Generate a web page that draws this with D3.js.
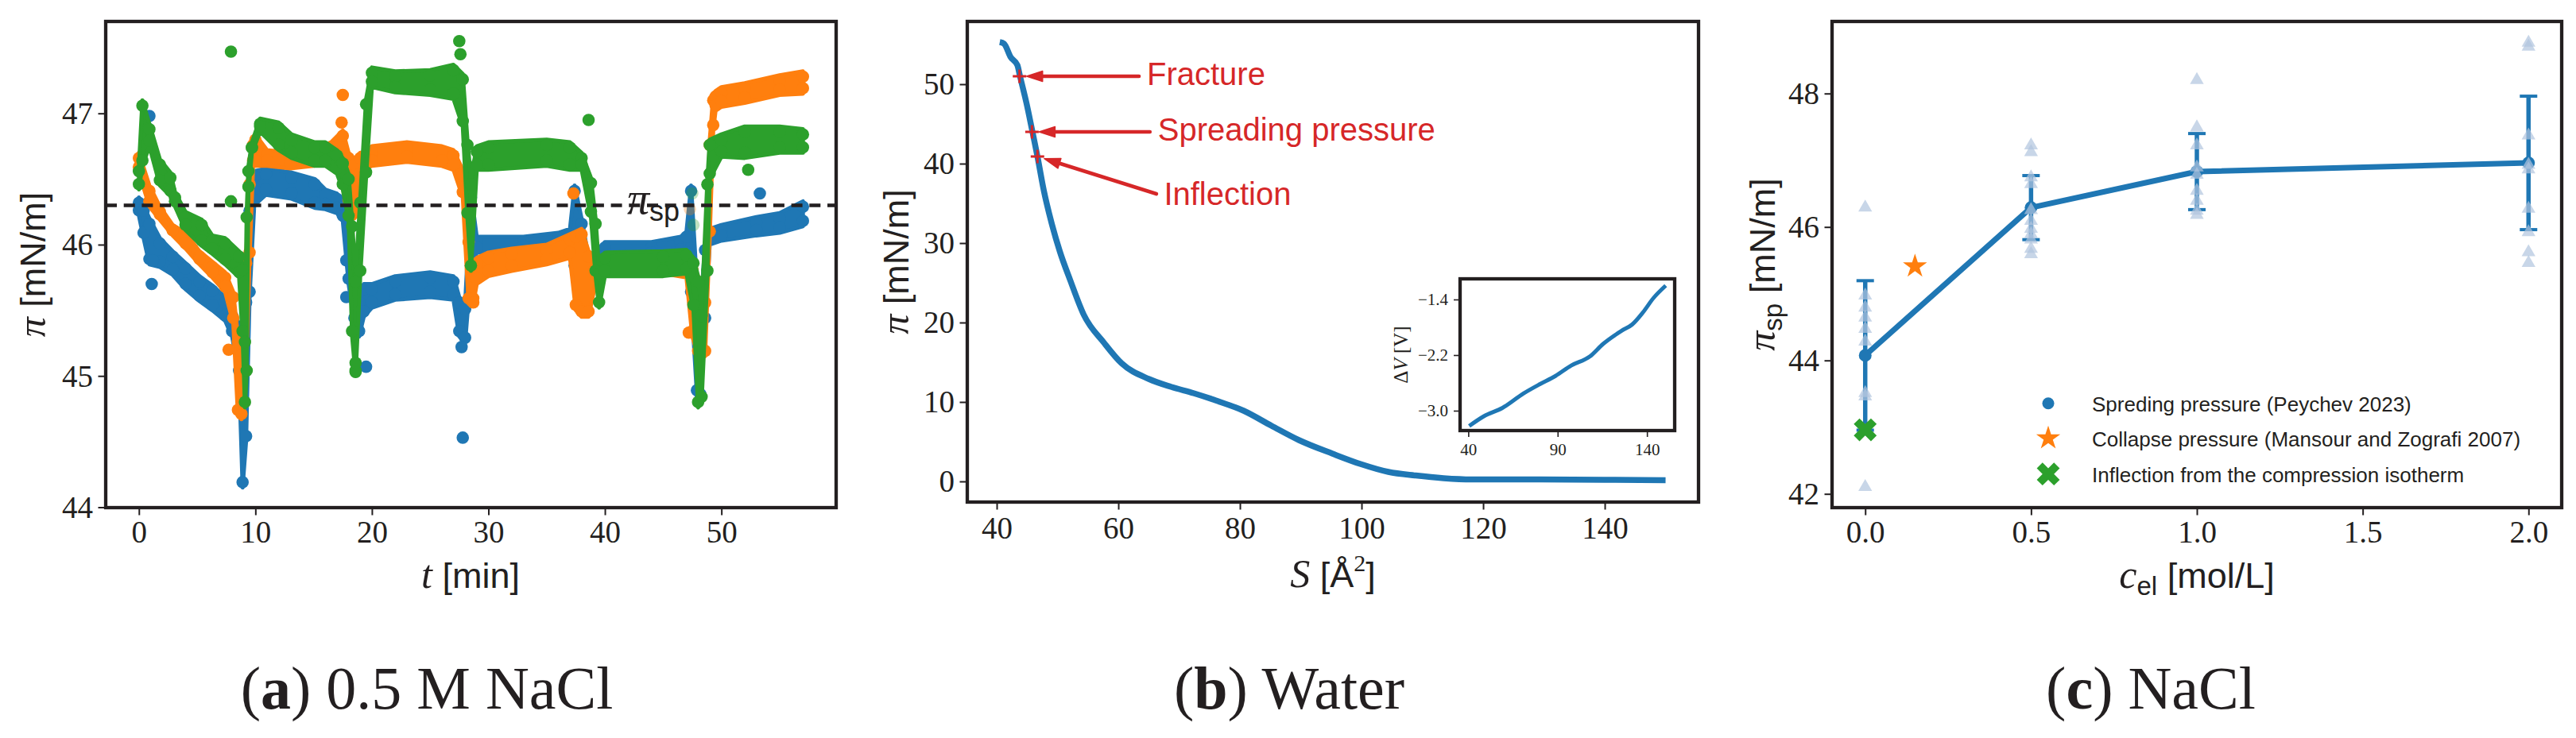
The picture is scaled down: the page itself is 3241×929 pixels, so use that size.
<!DOCTYPE html>
<html><head><meta charset="utf-8">
<script src="https://cdn.jsdelivr.net/npm/d3@7"></script>
<style>html,body{margin:0;padding:0;background:#fff;}svg{display:block;}</style>
</head><body>
<svg id="fig" width="3241" height="929"></svg>
<script>
// ================= DATA =================
// Panel (a): dense scatter bands: [t (min), lower edge, upper edge] in mN/m
const blueBand = [
 [0.0,46.22,46.36],[0.4,46.05,46.30],[0.9,45.85,46.20],[1.8,45.83,46.05],[2.9,45.77,45.95],
 [4.0,45.66,45.86],[5.2,45.57,45.76],[6.3,45.50,45.69],[7.4,45.42,45.60],[8.0,45.30,45.50],
 [8.6,45.00,45.40],[8.9,44.15,45.30],[9.2,44.50,45.60],[9.5,45.60,46.30],[9.9,46.30,46.56],
 [10.9,46.38,46.58],[13.1,46.35,46.55],[15.1,46.28,46.50],[16.0,46.27,46.42],[17.0,46.24,46.39],
 [17.5,46.18,46.30],[18.0,45.70,46.15],[18.5,45.40,45.80],[18.9,45.30,45.60],[19.3,45.45,45.70],
 [20.0,45.52,45.70],[22.0,45.58,45.76],[25.0,45.60,45.79],[27.0,45.58,45.76],[27.5,45.30,45.60],
 [28.0,45.25,45.55],[28.5,45.80,46.40],[29.0,45.94,46.06],[33.0,45.95,46.06],[36.0,45.97,46.09],
 [37.0,46.00,46.12],[37.4,45.80,46.45],[38.0,45.55,46.20],[38.6,45.60,45.90],[39.5,45.80,45.95],
 [40.0,45.88,46.02],[44.0,45.90,46.02],[46.5,45.92,46.06],[47.0,45.90,46.10],[47.4,45.60,46.45],
 [47.9,44.85,45.70],[48.2,44.82,45.50],[48.6,45.40,46.00],[49.0,46.00,46.12],[50.0,46.03,46.15],
 [53.0,46.07,46.21],[55.0,46.09,46.24],[57.0,46.14,46.33]
];
const orangeBand = [
 [0.0,46.55,46.70],[0.9,46.29,46.45],[1.8,46.19,46.29],[2.9,46.07,46.15],[4.0,45.97,46.09],
 [5.2,45.85,45.95],[6.3,45.75,45.87],[7.4,45.64,45.79],[8.1,45.40,45.64],[8.5,44.70,45.30],
 [8.8,44.67,45.20],[9.2,45.00,45.90],[9.5,45.90,46.50],[9.8,46.60,46.80],[10.0,46.60,46.84],
 [11.0,46.60,46.72],[13.0,46.58,46.70],[15.0,46.60,46.72],[16.5,46.62,46.78],[17.5,46.60,46.87],
 [18.0,46.30,46.70],[18.5,46.20,46.65],[19.0,46.50,46.70],[19.5,46.58,46.70],[20.0,46.60,46.75],
 [23.0,46.63,46.78],[26.0,46.60,46.75],[27.0,46.57,46.72],[27.8,46.36,46.57],[28.3,45.55,46.06],
 [28.7,45.55,45.80],[29.0,45.70,45.90],[30.0,45.76,45.94],[32.0,45.80,45.97],[35.0,45.85,46.00],
 [37.0,45.90,46.08],[37.5,45.50,46.10],[38.0,45.45,46.12],[38.6,45.45,45.95],[39.3,45.75,45.90],
 [40.0,45.76,45.90],[45.0,45.78,45.92],[47.0,45.75,45.85],[47.5,45.30,45.85],[48.0,45.15,45.76],
 [48.6,45.15,45.60],[49.0,46.06,46.80],[49.3,46.87,47.14],[49.5,47.02,47.17],[50.0,47.05,47.20],
 [52.0,47.08,47.23],[55.0,47.14,47.29],[57.0,47.15,47.32]
];
const greenBand = [
 [0.0,46.42,46.60],[0.3,46.60,47.10],[0.9,46.75,46.92],[1.8,46.45,46.65],[2.7,46.37,46.55],
 [3.1,46.29,46.40],[4.0,46.11,46.25],[5.4,45.99,46.19],[6.3,45.93,46.07],[7.4,45.85,46.05],
 [8.6,45.75,45.95],[8.9,45.30,45.85],[9.1,44.76,45.30],[9.25,45.00,46.25],[9.4,46.40,46.60],
 [9.7,46.70,46.78],[10.4,46.86,46.96],[12.0,46.72,46.93],[13.1,46.66,46.84],[15.1,46.60,46.78],
 [16.0,46.60,46.78],[17.0,46.54,46.72],[17.5,46.42,46.66],[18.0,46.18,46.54],[18.3,45.30,46.18],
 [18.6,45.00,45.76],[19.0,45.76,46.36],[19.5,46.51,47.11],[20.0,47.20,47.35],[22.0,47.16,47.32],
 [25.0,47.14,47.33],[27.0,47.11,47.37],[27.8,46.90,47.30],[28.2,46.20,46.80],[28.5,45.80,46.50],
 [29.0,46.57,46.75],[30.0,46.57,46.78],[35.0,46.60,46.80],[37.0,46.57,46.78],[38.0,46.57,46.70],
 [38.8,46.21,46.51],[39.2,45.76,46.20],[39.5,45.52,45.82],[40.0,45.76,45.94],[45.0,45.76,45.95],
 [47.0,45.78,45.96],[47.6,45.50,45.90],[48.0,44.76,45.76],[48.3,44.80,45.50],[48.8,45.76,46.50],
 [49.0,46.50,46.80],[50.0,46.67,46.84],[52.0,46.66,46.90],[55.0,46.70,46.90],[57.0,46.70,46.88]
];
// isolated points [t, pi]
const blueOut = [[0.9,46.98],[0.85,46.88],[1.1,45.70],[1.2,45.88],[17.8,45.88],[17.8,45.60],[19.5,45.07],[27.7,45.22],[27.8,44.53],[53.3,46.39]];
const orangeOut = [[7.7,45.20],[17.5,47.14],[17.4,46.93],[28.7,45.56],[37.3,46.39],[47.2,45.33]];
const greenOut = [[7.9,47.47],[7.9,46.33],[18.6,45.03],[18.6,45.10],[27.5,47.55],[27.6,47.45],[38.6,46.95],[52.3,46.57]];
// faint (semi-transparent) points near t = 47.5
const paleOrange = [[47.3,46.27]];
const paleGreen = [[47.5,46.39],[47.6,46.15]];
const piSp = 46.3;
const aXTicks = [0,10,20,30,40,50];
const aYTicks = [44,45,46,47];

// Panel (b): compression isotherm
const areaS    = [40.5,41.2,42.3,43.4,43.8,44.9,45.8,46.7,47.75,49.1,50.4,52.1,54.3,57.7,60.5,65.0,68.7,72.4,76.0,80.6,85.2,89.7,95.2,99.8,104.4,108.9,113.5,118.1,127.2,140.0,150.0];
const pressure = [55.3,55.1,53.4,52.4,51.1,47.6,44.3,40.9,36.6,32.3,28.9,25.3,21.0,17.4,14.9,12.9,11.9,11.1,10.2,8.9,7.0,5.2,3.5,2.2,1.2,0.74,0.4,0.25,0.25,0.2,0.15];
const insetS  = [40.5,48.7,59.1,71.0,79.9,88.8,97.6,108.0,115.4,125.8,131.7,137.6,143.6,150.5];
const insetDV = [-3.22,-3.08,-2.96,-2.75,-2.62,-2.50,-2.35,-2.22,-2.04,-1.85,-1.76,-1.59,-1.38,-1.20];
const bXTicks = [40,60,80,100,120,140];
const bYTicks = [0,10,20,30,40,50];
const insetXTicks = [40,90,140];
const insetYTicks = [-3.0,-2.2,-1.4];
const annLabels  = ["Fracture","Spreading pressure","Inflection"];
const annPointS  = [43.75,45.8,46.7];
const annPointPi = [51.0,44.0,40.9];
const annTextS   = [64.7,66.5,67.5];
const annTextPi  = [51.0,44.0,35.9];

// Panel (c): spreading pressure vs electrolyte concentration
const conc   = [0,0.5,1.0,2.0];
const meanSp = [44.075,46.29,46.83,46.96];
const errSp  = [1.12,0.48,0.57,1.0];
const runsC  = [0,0,0,0,0,0,0,0,0,0, 0.5,0.5,0.5,0.5,0.5,0.5,0.5,0.5,0.5,0.5,0.5, 1,1,1,1,1,1,1,1,1, 2,2,2,2,2,2,2,2,2];
const runsPi = [46.31,44.99,44.81,44.66,44.49,44.30,43.53,43.48,42.95,42.12,
                47.24,47.14,46.76,46.66,46.27,46.11,45.99,45.91,45.83,45.69,45.61,
                48.22,47.51,47.24,46.91,46.80,46.56,46.41,46.26,46.20,
                48.72,48.78,47.39,46.95,46.88,46.29,45.94,45.64,45.48];
const collapseC = [0.15], collapsePi = [45.41];
const inflectC = [0.0], inflectPi = [42.96];
const legendLabels = ["Spreding pressure (Peychev 2023)","Collapse pressure (Mansour and Zografi 2007)","Inflection from the compression isotherm"];
const cXTicks = [0,0.5,1.0,1.5,2.0];
const cYTicks = [42,44,46,48];
const capLetters = ["a","b","c"];
const capTexts = [" 0.5 M NaCl"," Water"," NaCl"];

// ================= DRAWING =================
const SERIF = "'Liberation Serif','Times New Roman',serif";
const SANS = "'Liberation Sans',Arial,sans-serif";
const INK = "#231f20";
const C0="#1f77b4", C1="#ff7f0e", C2="#2ca02c", C3="#d62728";
const svg = d3.select("#fig");
svg.append("rect").attr("width",3241).attr("height",929).attr("fill","#fff");
const defs = svg.append("defs");

function clip(id,x,y){
  const [xl,xr]=x.range(),[yb,yt]=y.range();
  defs.append("clipPath").attr("id",id).append("rect").attr("x",xl).attr("y",yt).attr("width",xr-xl).attr("height",yb-yt);
}
function axes(g,x,y,o){
  const [xl,xr]=x.range(),[yb,yt]=y.range();
  const gx=g.append("g").attr("transform",`translate(0,${yb})`)
    .call(d3.axisBottom(x).tickValues(o.xt).tickFormat(o.xf).tickSizeOuter(0).tickSize(o.ts));
  const gy=g.append("g").attr("transform",`translate(${xl},0)`)
    .call(d3.axisLeft(y).tickValues(o.yt).tickFormat(o.yf).tickSizeOuter(0).tickSize(o.ts));
  [gx,gy].forEach(a=>{
    a.attr("font-family",SERIF).attr("font-size",o.fs);
    a.select(".domain").remove();
    a.selectAll(".tick line").attr("stroke",INK).attr("stroke-width",o.tw);
    a.selectAll(".tick text").attr("fill",INK).attr("font-family",SERIF).style("font-family",SERIF).style("font-size",o.fs+"px");
  });
  gx.selectAll(".tick text").attr("y",o.xb).attr("dy",null);
  gy.selectAll(".tick text").attr("x",-o.yg).attr("dy","0.33em");
  g.append("rect").attr("x",xl).attr("y",yt).attr("width",xr-xl).attr("height",yb-yt)
    .attr("fill","none").attr("stroke",INK).attr("stroke-width",o.sw);
}
function label(g,x,y,rot,parts){
  const t=g.append("text").attr("transform",`translate(${x},${y})`+(rot?" rotate(-90)":""))
    .attr("text-anchor","middle").attr("fill",INK);
  parts.forEach(p=>{
    const s=t.append("tspan").text(p.t).style("font-family",p.f).style("font-size",p.s+"px");
    if(p.i) s.style("font-style","italic");
    if(p.b) s.style("font-weight","bold");
    if(p.dy) s.attr("dy",p.dy);
  });
  return t;
}
const fmtInt=d3.format("d"), fmt1=d3.format(".1f");

// ---------- Panel (a)
const xA=d3.scaleLinear().domain([-2.85,59.85]).range([133,1052]);
const yA=d3.scaleLinear().domain([43.997,47.70]).range([639,27]);
clip("clipA",xA,yA);
const gA=svg.append("g");
const pA=gA.append("g").attr("clip-path","url(#clipA)");
const areaA=d3.area().x(d=>xA(d[0])).y0(d=>yA(d[1])).y1(d=>yA(d[2]));
const R=7.8;
[[blueBand,blueOut,C0],[orangeBand,orangeOut,C1],[greenBand,greenOut,C2]].forEach(([band,out,c])=>{
  const g=pA.append("g").attr("fill",c);
  g.append("path").attr("d",areaA(band)).attr("stroke",c)
    .attr("stroke-width",5).attr("stroke-linejoin","round");
  band.forEach(d=>{
    const yt=yA(d[2]), yb=yA(d[1]);
    const c1=Math.min(yt+R-1,(yt+yb)/2), c2=Math.max(yb-R+1,(yt+yb)/2);
    g.append("circle").attr("cx",xA(d[0])).attr("cy",c1).attr("r",R);
    g.append("circle").attr("cx",xA(d[0])).attr("cy",c2).attr("r",R);
  });
  g.selectAll(null).data(out).enter().append("circle")
    .attr("cx",d=>xA(d[0])).attr("cy",d=>yA(d[1])).attr("r",R);
});
[[paleOrange,C1],[paleGreen,C2]].forEach(([pts,c])=>{
  pA.selectAll(null).data(pts).enter().append("circle")
    .attr("cx",d=>xA(d[0])).attr("cy",d=>yA(d[1])).attr("r",R).attr("fill",c).attr("fill-opacity",0.3);
});
pA.append("line").attr("x1",xA.range()[0]).attr("x2",xA.range()[1]).attr("y1",yA(piSp)).attr("y2",yA(piSp))
  .attr("stroke",INK).attr("stroke-width",4.5).attr("stroke-dasharray","14,8.7");
label(gA,xA(41.9),yA(piSp)+11,false,[{t:"π",f:SERIF,s:56,i:true},{t:"sp",f:SANS,s:36,dy:9}]).attr("text-anchor","start");
axes(gA,xA,yA,{xt:aXTicks,yt:aYTicks,xf:fmtInt,yf:fmtInt,ts:9.5,tw:2,fs:39,xb:44,yg:16,sw:4.3});
label(gA,57,333,true,[{t:"π",f:SERIF,s:50,i:true},{t:" [mN/m]",f:SANS,s:45}]);
label(gA,592,740,false,[{t:"t",f:SERIF,s:50,i:true},{t:" [min]",f:SANS,s:45}]);

// ---------- Panel (b)
const xB=d3.scaleLinear().domain([35.16,155.42]).range([1217,2137]);
const yB=d3.scaleLinear().domain([-2.6,57.9]).range([632,27]);
clip("clipB",xB,yB);
const gB=svg.append("g");
const pB=gB.append("g").attr("clip-path","url(#clipB)");
const isoPts=areaS.map((s,i)=>[s,pressure[i]]);
pB.append("path").attr("d",d3.line().x(d=>xB(d[0])).y(d=>yB(d[1])).curve(d3.curveMonotoneX)(isoPts))
  .attr("fill","none").attr("stroke",C0).attr("stroke-width",7.5).attr("stroke-linejoin","round");
annLabels.forEach((lab,i)=>{
  const px=xB(annPointS[i]),py=yB(annPointPi[i]);
  const tx=xB(annTextS[i]),ty=yB(annTextPi[i]);
  const L=Math.hypot(px-tx,py-ty),ux=(px-tx)/L,uy=(py-ty)/L;
  const tipX=px-ux*9,tipY=py-uy*9,tailX=tx+ux*10,tailY=ty+uy*10;
  const bX=tipX-ux*20,bY=tipY-uy*20;
  pB.append("line").attr("x1",tailX).attr("y1",tailY).attr("x2",bX+ux*2).attr("y2",bY+uy*2)
    .attr("stroke",C3).attr("stroke-width",4.7).attr("stroke-linecap","round");
  pB.append("polygon").attr("points",[[tipX,tipY],[bX-uy*6.5,bY+ux*6.5],[bX+uy*6.5,bY-ux*6.5]].map(p=>p.join(",")).join(" "))
    .attr("fill",C3).attr("stroke",C3).attr("stroke-width",1.5).attr("stroke-linejoin","round");
  pB.append("path").attr("d",`M${px-8.5},${py}H${px+8.5}M${px},${py-8.5}V${py+8.5}`).attr("stroke",C3).attr("stroke-width",3);
  gB.append("text").attr("x",tx).attr("y",ty).attr("dy","0.27em").text(lab).attr("fill",C3)
    .style("font-family",SANS).style("font-size","40px");
});
axes(gB,xB,yB,{xt:bXTicks,yt:bYTicks,xf:fmtInt,yf:fmtInt,ts:9.5,tw:2,fs:39,xb:46,yg:16,sw:4.3});
label(gB,1143,329.5,true,[{t:"π",f:SERIF,s:50,i:true},{t:" [mN/m]",f:SANS,s:45}]);
label(gB,1677,739,false,[{t:"S",f:SERIF,s:50,i:true},{t:" [Å",f:SANS,s:45},{t:"2",f:SERIF,s:30,dy:-20},{t:"]",f:SANS,s:45,dy:20}]);
// inset
const xI=d3.scaleLinear().domain([35.4,155.5]).range([1837,2107]);
const yI=d3.scaleLinear().domain([-3.286,-1.103]).range([542,351]);
clip("clipI",xI,yI);
const gI=gB.append("g");
gI.append("rect").attr("x",1837).attr("y",351).attr("width",270).attr("height",191).attr("fill","#fff");
gI.append("g").attr("clip-path","url(#clipI)").append("path")
  .attr("d",d3.line().x(d=>xI(d[0])).y(d=>yI(d[1])).curve(d3.curveMonotoneX)(insetS.map((s,i)=>[s,insetDV[i]])))
  .attr("fill","none").attr("stroke",C0).attr("stroke-width",5).attr("stroke-linejoin","round");
axes(gI,xI,yI,{xt:insetXTicks,yt:insetYTicks,xf:fmtInt,yf:fmt1,ts:8,tw:1.6,fs:21,xb:31,yg:15,sw:4.3});
label(gI,1771,446.5,true,[{t:"Δ",f:SERIF,s:25},{t:"V",f:SERIF,s:25,i:true},{t:" [V]",f:SERIF,s:25}]);

// ---------- Panel (c)
const xC=d3.scaleLinear().domain([-0.1,2.1]).range([2305,3223]);
const yC=d3.scaleLinear().domain([41.794,49.08]).range([639,27]);
clip("clipC",xC,yC);
const gC=svg.append("g");
const pC=gC.append("g").attr("clip-path","url(#clipC)");
pC.append("path").attr("d",d3.line().x((d,i)=>xC(conc[i])).y((d,i)=>yC(meanSp[i]))(meanSp))
  .attr("fill","none").attr("stroke",C0).attr("stroke-width",7).attr("stroke-linejoin","round");
conc.forEach((c,i)=>{
  const x=xC(c),y1=yC(meanSp[i]-errSp[i]),y2=yC(meanSp[i]+errSp[i]);
  pC.append("line").attr("x1",x).attr("x2",x).attr("y1",y1).attr("y2",y2).attr("stroke",C0).attr("stroke-width",5.5);
  [y1,y2].forEach(yy=>pC.append("line").attr("x1",x-11).attr("x2",x+11).attr("y1",yy).attr("y2",yy).attr("stroke",C0).attr("stroke-width",4));
  pC.append("circle").attr("cx",x).attr("cy",yC(meanSp[i])).attr("r",8).attr("fill",C0);
});
const tri=d3.symbol(d3.symbolTriangle).size(130);
pC.selectAll(null).data(runsPi).enter().append("path").attr("d",tri)
  .attr("transform",(d,i)=>`translate(${xC(runsC[i])},${yC(d)+1.5})`)
  .attr("fill","lightsteelblue").attr("fill-opacity",0.7);
const star=d3.symbol(d3.symbolStar).size(285);
const cross=d3.symbol(d3.symbolCross).size(520);
pC.selectAll(null).data(collapsePi).enter().append("path").attr("d",star)
  .attr("transform",(d,i)=>`translate(${xC(collapseC[i])},${yC(d)})`).attr("fill",C1);
pC.selectAll(null).data(inflectPi).enter().append("path").attr("d",cross)
  .attr("transform",(d,i)=>`translate(${xC(inflectC[i])},${yC(d)}) rotate(45)`).attr("fill",C2);
// legend
const legY=[507.7,551.7,596.7];
gC.append("circle").attr("cx",2577).attr("cy",legY[0]).attr("r",7.5).attr("fill",C0);
gC.append("path").attr("d",star).attr("transform",`translate(2577,${legY[1]})`).attr("fill",C1);
gC.append("path").attr("d",cross).attr("transform",`translate(2577,${legY[2]}) rotate(45)`).attr("fill",C2);
legendLabels.forEach((l,i)=>gC.append("text").attr("x",2632).attr("y",legY[i]).attr("dy","0.38em").text(l)
  .attr("fill",INK).style("font-family",SANS).style("font-size","26px"));
axes(gC,xC,yC,{xt:cXTicks,yt:cYTicks,xf:fmt1,yf:fmtInt,ts:9.5,tw:2,fs:39,xb:44,yg:16,sw:4.3});
label(gC,2233,333,true,[{t:"π",f:SERIF,s:50,i:true},{t:"sp",f:SANS,s:33,dy:9},{t:" [mN/m]",f:SANS,s:45,dy:-9}]);
label(gC,2764,740,false,[{t:"c",f:SERIF,s:50,i:true},{t:"el",f:SANS,s:33,dy:9},{t:" [mol/L]",f:SANS,s:45,dy:-9}]);

// ---------- captions
const capX=[537,1622,2706];
capLetters.forEach((l,i)=>{
  label(svg,capX[i],892,false,[{t:"(",f:SERIF,s:76},{t:l,f:SERIF,s:76,b:true},{t:")"+capTexts[i],f:SERIF,s:76}]);
});
</script>
</body></html>
